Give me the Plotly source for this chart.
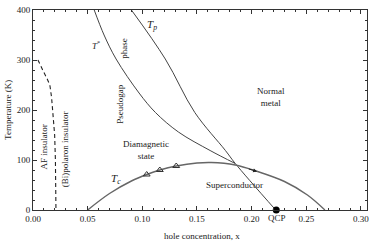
import plotly.graph_objects as go

# AF insulator boundary (dashed)
af_x = [0.0045, 0.0075, 0.010, 0.013, 0.0154, 0.017, 0.018, 0.019, 0.0198, 0.0205, 0.021]
af_T = [300, 288, 275, 262, 250, 225, 200, 175, 150, 100, 0]

# T* line
ts_x = [0.056, 0.065, 0.076, 0.097, 0.112, 0.133, 0.162, 0.185]
ts_T = [400, 350, 302, 234, 195, 156, 119, 93]

# Tp line
tp_x = [0.090, 0.121, 0.148, 0.176, 0.185, 0.222]
tp_T = [400, 302, 195, 119, 93, 0]

# Tc dome
tc_x = [0.05, 0.07, 0.09, 0.104, 0.116, 0.131, 0.15, 0.163, 0.185, 0.204, 0.23, 0.251, 0.267]
tc_T = [0, 33, 58, 71, 80, 88, 94, 95, 90, 78, 57, 30, 0]

# experimental points
exp_x = [0.104, 0.116, 0.131]
exp_T = [71, 80, 88]

qcp_x = [0.2225]
qcp_T = [0]

FONT = "Liberation Serif"
fig = go.Figure()
fig.add_trace(go.Scatter(x=af_x, y=af_T, mode="lines", line=dict(color="#222", width=1.1, dash="4px,3px"), line_shape="linear"))
fig.add_trace(go.Scatter(x=ts_x, y=ts_T, mode="lines", line=dict(color="#444", width=1), line_shape="spline"))
fig.add_trace(go.Scatter(x=tp_x, y=tp_T, mode="lines", line=dict(color="#444", width=1), line_shape="spline"))
fig.add_trace(go.Scatter(x=tc_x, y=tc_T, mode="lines", line=dict(color="#666", width=1.4), line_shape="spline"))
fig.add_trace(go.Scatter(x=exp_x, y=exp_T, mode="markers", marker=dict(symbol="triangle-up-open", size=6, color="#333", line=dict(width=1))))
fig.add_trace(go.Scatter(x=qcp_x, y=qcp_T, mode="markers", marker=dict(symbol="circle", size=7, color="black"), cliponaxis=False))

txt = dict(family=FONT, size=9, color="#222")
ann = [
    dict(x=0.010, y=127, text="AF insulator", textangle=-90),
    dict(x=0.029, y=121, text="(Bi)polaron insulator", textangle=-90),
    dict(x=0.079, y=211, text="Pseudogap", textangle=-90),
    dict(x=0.083, y=324, text="phase", textangle=-90),
    dict(x=0.058, y=330, text="<i>T</i><sup>*</sup>"),
    dict(x=0.109, y=371, text="<i>T<sub>p</sub></i>", font=dict(family=FONT, size=11, color="#222")),
    dict(x=0.076, y=62, text="<i>T<sub>c</sub></i>", font=dict(family=FONT, size=11, color="#222")),
    dict(x=0.218, y=226, text="Normal<br>metal"),
    dict(x=0.103, y=120, text="Diamagnetic<br>state"),
    dict(x=0.184, y=51, text="Superconductor"),
]
annotations = []
for a in ann:
    d = dict(xref="x", yref="y", showarrow=False, font=txt)
    d.update(a)
    annotations.append(d)
annotations.append(dict(xref="x", yref="paper", x=0.223, y=-0.042, yanchor="middle", text="QCP", showarrow=False, font=txt))
annotations.append(dict(xref="paper", yref="paper", x=0.506, y=-0.13, yanchor="middle", text="hole concentration, x", showarrow=False, font=txt))
annotations.append(dict(xref="paper", yref="paper", x=-0.075, y=0.5, xanchor="center", yanchor="middle", text="Temperature (K)", textangle=-90, showarrow=False, font=txt))
# direction arrow on dome
annotations.append(dict(xref="x", yref="y", axref="x", ayref="y", x=0.205, y=77, ax=0.196, ay=83, text="", showarrow=True, arrowhead=2, arrowsize=0.8, arrowwidth=1, arrowcolor="#222"))

axis_common = dict(showline=True, linecolor="#333", linewidth=1, mirror="allticks", ticks="inside",
                   ticklen=4, tickcolor="#333", showgrid=False, zeroline=False,
                   tickfont=dict(family=FONT, size=9, color="#222"))
fig.update_layout(
    width=374, height=242, margin=dict(l=33, r=6, t=5, b=32),
    plot_bgcolor="white", paper_bgcolor="white", showlegend=False,
    annotations=annotations,
    xaxis=dict(range=[0, 0.3055], tickvals=[0, 0.05, 0.1, 0.15, 0.2, 0.25, 0.3],
               ticktext=["0.00", "0.05", "0.10", "0.15", "0.20", "0.25", "0.30"],
               minor=dict(ticks="inside", dtick=0.01, tick0=0, ticklen=2, tickcolor="#333"), **axis_common),
    yaxis=dict(range=[0, 400], tickvals=[0, 100, 200, 300, 400],
               minor=dict(ticks="inside", dtick=20, tick0=0, ticklen=2, tickcolor="#333"), **axis_common),
)
fig.write_html("out.html", config={"displayModeBar": False},
               post_script="document.body.style.margin='0';document.body.style.overflow='hidden';")
